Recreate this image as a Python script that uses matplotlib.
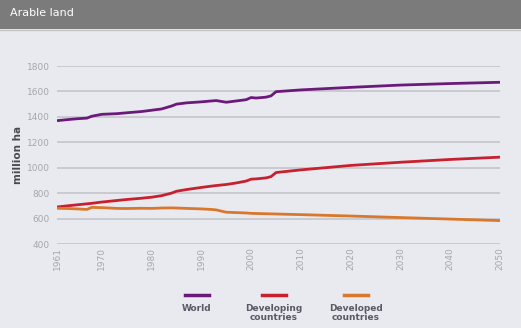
import matplotlib.pyplot as plt
from matplotlib.lines import Line2D
from matplotlib.patches import Rectangle

# data (million ha)
years = [1961, 1963, 1965, 1967, 1968, 1970, 1973, 1975, 1978, 1980,
         1982, 1984, 1985, 1987, 1990, 1992, 1993, 1995, 1997, 1999,
         2000, 2001, 2003, 2004, 2005, 2010, 2020, 2030, 2040, 2050]
world = [1370, 1378, 1385, 1390, 1405, 1420, 1425, 1432, 1442, 1452,
         1462, 1485, 1500, 1510, 1518, 1525, 1528, 1515, 1525, 1535,
         1552, 1548, 1555, 1565, 1598, 1612, 1632, 1650, 1662, 1672]
developing = [691, 700, 708, 716, 720, 730, 742, 750, 760, 768,
              780, 800, 815, 828, 845, 855, 860, 868, 880, 895,
              910, 912, 920, 930, 962, 983, 1018, 1043, 1065, 1083]
developed = [681, 679, 676, 672, 688, 686, 680, 679, 681, 680,
             683, 684, 683, 680, 676, 672, 668, 650, 647, 644,
             641, 640, 638, 637, 636, 631, 620, 608, 596, 584]

series_names = ["World", "Developing\ncountries", "Developed\ncountries"]
colors = ["#6b1a7c", "#c8202f", "#d9772c"]
xticks = [1961, 1970, 1980, 1990, 2000, 2010, 2020, 2030, 2040, 2050]
yticks = [400, 600, 800, 1000, 1200, 1400, 1600, 1800]

bg = "#e9eaef"
fig = plt.figure(figsize=(5.21, 3.28), dpi=100, facecolor=bg)

# header bar
fig.add_artist(Rectangle((0, 1 - 29 / 328), 1, 29 / 328, transform=fig.transFigure,
                         facecolor="#7b7b7b", edgecolor="none"))
fig.add_artist(Line2D([0, 1], [1 - 29.5 / 328] * 2, transform=fig.transFigure,
                      color="#c4c4c4", lw=1))
fig.text(10 / 521, 1 - 13 / 328, "Arable land", color="white", fontsize=8,
         va="center", ha="left")

ax = fig.add_axes([57 / 521, 1 - 244 / 328, (500 - 57) / 521, (244 - 66) / 328])
ax.set_facecolor(bg)

for vals, c in zip([world, developing, developed], colors):
    ax.plot(years, vals, color=c, lw=2.0, solid_capstyle="butt", zorder=3)

ax.set_xlim(1961, 2050)
ax.set_ylim(400, 1800)
ax.set_yticks(yticks)
ax.set_xticks(xticks)
ax.yaxis.grid(True, color="#c6c8cd", lw=1.3)
ax.set_axisbelow(True)
for s in ax.spines.values():
    s.set_visible(False)
ax.tick_params(axis="both", length=0, labelsize=6.5, labelcolor="#a5a7ad")
ax.tick_params(axis="y", pad=5)
ax.tick_params(axis="x", pad=2)
plt.setp(ax.get_xticklabels(), rotation=90)
ax.set_ylabel("million ha", fontsize=7.5, fontweight="bold", color="#4a4a55", labelpad=3)

# legend: swatch above the label
legend_x = [197, 274, 356]
for name, c, lx in zip(series_names, colors, legend_x):
    fig.add_artist(Line2D([(lx - 12) / 521, (lx + 12) / 521], [1 - 295 / 328] * 2,
                          transform=fig.transFigure, color=c, lw=2.5))
    fig.text(lx / 521, 1 - 304 / 328, name, ha="center", va="top", fontsize=6.5,
             fontweight="bold", color="#5a5a66", linespacing=1.0)

plt.savefig("out.png", dpi=100, facecolor=bg)
